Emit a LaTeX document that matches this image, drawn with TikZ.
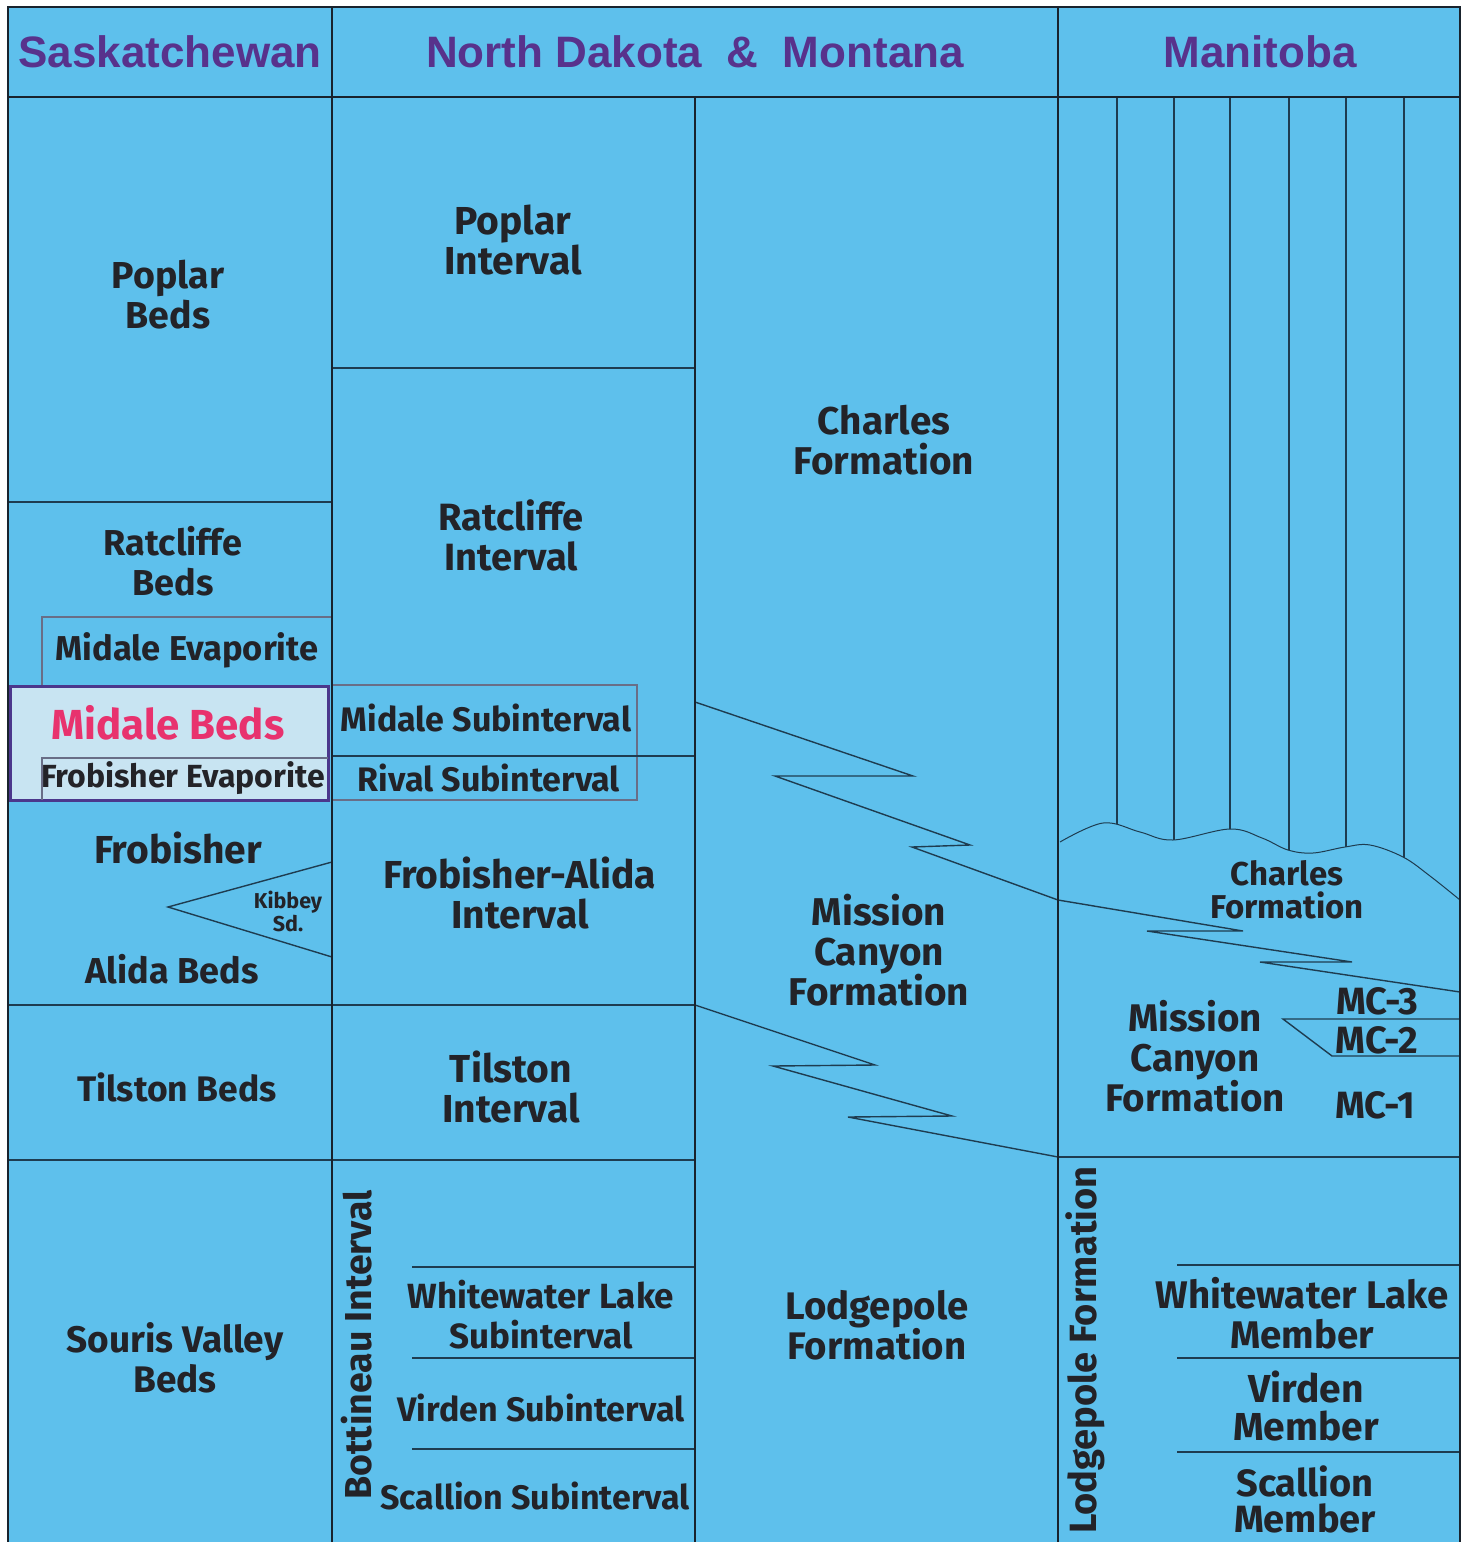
\documentclass[tikz,border=0pt]{standalone}
\usepackage{fontspec}
\setmainfont{Fira Sans}
\newfontfamily\hfont{Liberation Sans}
\definecolor{bg}{RGB}{94,192,236}
\definecolor{hd}{RGB}{88,50,140}
\definecolor{txt}{RGB}{35,35,40}
\definecolor{frame}{RGB}{25,35,45}
\definecolor{thinln}{RGB}{30,60,80}
\definecolor{boxln}{RGB}{105,110,135}
\definecolor{midfill}{RGB}{200,228,242}
\definecolor{midpink}{RGB}{232,50,110}
\definecolor{midframe}{RGB}{75,55,140}
\begin{document}
\begin{tikzpicture}[x=1pt,y=-1pt,
  lbl/.style={font=\bfseries\fontsize{#1}{40}\selectfont, text=txt, align=center, inner sep=0pt},
  lbl/.default=38,
  head/.style={font=\hfont\bfseries\fontsize{44}{46}\selectfont, text=hd, inner sep=0pt},
  frameln/.style={draw=frame, line width=2.6pt},
  thinl/.style={draw=thinln, line width=1.4pt},
  boxl/.style={draw=boxln, line width=1.2pt}]
\useasboundingbox (0,0) rectangle (1466,1542);
\fill[white] (0,0) rectangle (1466,1542);
\fill[bg] (8,7) rectangle (1460,1542);

% highlighted boxes
\draw[boxl] (332,617) -- (42,617) -- (42,686);
\filldraw[fill=midfill, draw=midframe, line width=3pt] (10,686) rectangle (328,800);
\draw[boxl] (42,800) -- (42,758) -- (328,758);
\draw[boxl] (332,685) rectangle (637,800);

% thin horizontal lines
\path[thinl] (8,502) -- (332,502);
\path[thinl] (8,1005) -- (695,1005);
\path[thinl] (8,1160) -- (695,1160);
\path[thinl] (332,368) -- (695,368);
\path[thinl] (332,756) -- (695,756);
\path[thinl] (412,1267) -- (695,1267);
\path[thinl] (412,1358) -- (695,1358);
\path[thinl] (412,1449) -- (695,1449);
\path[thinl] (1058,1157) -- (1460,1157);
\path[thinl] (1177,1265) -- (1460,1265);
\path[thinl] (1177,1358) -- (1460,1358);
\path[thinl] (1177,1452) -- (1460,1452);

% Kibbey wedge
\path[thinl] (332,862) -- (168,907) -- (332,957);

% interfingering boundaries
\path[thinl, line join=miter] (695,702) -- (913,776) -- (775,776) -- (970,845) -- (912,847) -- (1058,900)
  -- (1243,931) -- (1147,931) -- (1352,962) -- (1260,962) -- (1460,992);
\path[thinl, line join=miter] (695,1005) -- (875,1065) -- (773,1066) -- (952,1116) -- (848,1117) -- (1058,1157);
\path[thinl] (1460,1019) -- (1283,1019) -- (1332,1056) -- (1460,1056);

% Manitoba unconformity and truncated strata
\begin{scope}
\clip (1058,97) -- plot[smooth, tension=0.6] coordinates {(1060,842) (1103,823) (1140,832) (1173,840) (1230,829) (1262,838) (1288,850) (1313,853) (1345,847) (1370,845) (1403,857) (1430,876) (1460,900)} -- (1460,97) -- cycle;
\foreach \xx in {1117,1174,1230,1289,1346,1404} \draw[draw=thinln, line width=1.4pt] (\xx,97) -- (\xx,1000);
\end{scope}
\draw[draw=thinln, line width=1pt] plot[smooth, tension=0.6] coordinates {(1060,842) (1103,823) (1140,832) (1173,840) (1230,829) (1262,838) (1288,850) (1313,853) (1345,847) (1370,845) (1403,857) (1430,876) (1460,900)};

% frame lines
\path[frameln] (8,1542) -- (8,7) -- (1460,7) -- (1460,1542);
\path[frameln] (8,97) -- (1460,97);
\path[frameln] (332,7) -- (332,1542);
\path[frameln] (1058,7) -- (1058,1542);
\path[frameln] (695,97) -- (695,1542);

% headers
\node[head] (hsask) at (170,52) {Saskatchewan};
\node[head] (hnd) at (695,52) {North Dakota\ \ \&\ \ Montana};
\node[head] (hman) at (1260,52) {Manitoba};

% Saskatchewan
\node[lbl=37.5] (poplarbeds) at (168,295) {Poplar\\Beds};
\node[lbl=36] (ratbeds) at (173,561) {Ratcliffe\\Beds};
\node[lbl=34.5] (midevap) at (187,650) {Midale Evaporite};
\node[lbl=42, text=midpink] (midbeds) at (168,723) {Midale Beds};
\node[lbl=32] (frobevap) at (183,778) {Frobisher Evaporite};
\node[lbl=39] (frob) at (178,848) {Frobisher};
\node[lbl=21.5, font=\bfseries\fontsize{21.5}{23}\selectfont] (kibbey) at (288,911) {Kibbey\\Sd.};
\node[lbl=36] (alida) at (172,969) {Alida Beds};
\node[lbl=35.5] (tilbeds) at (177,1087) {Tilston Beds};
\node[lbl=37] (souris) at (175,1358) {Souris Valley\\Beds};

% North Dakota & Montana
\node[lbl=39] (popint) at (513,240) {Poplar\\Interval};
\node[lbl=38] (ratint) at (511,535) {Ratcliffe\\Interval};
\node[lbl=34] (midsub) at (486,718) {Midale Subinterval};
\node[lbl=34] (rivsub) at (489,778) {Rival Subinterval};
\node[lbl=39] (frobal) at (520,893) {Frobisher-Alida\\Interval};
\node[lbl=39] (tilint) at (511,1087) {Tilston\\Interval};
\node[lbl=37.5, rotate=90] (bott) at (357,1345) {Bottineau Interval};
\node[lbl=35] (whsub) at (541,1315) {Whitewater Lake\\Subinterval};
\node[lbl=34] (virsub) at (541,1408) {Virden Subinterval};
\node[lbl=34] (scsub) at (535,1496) {Scallion Subinterval};
\node[lbl=38.7] (charles) at (884,440) {Charles\\Formation};
\node[lbl=38.7] (mission) at (879,950) {Mission\\Canyon\\Formation};
\node[lbl=38.4] (lodge) at (877,1325) {Lodgepole\\Formation};

% Manitoba
\node[lbl=33, font=\bfseries\fontsize{33}{33}\selectfont] (charlesm) at (1287,890) {Charles\\Formation};
\node[lbl=38.5] (missionm) at (1195,1056) {Mission\\Canyon\\Formation};
\node[lbl=38] (mc3) at (1377,1001) {MC-3};
\node[lbl=38] (mc2) at (1377,1040) {MC-2};
\node[lbl=38] (mc1) at (1375,1105) {MC-1};
\node[lbl=38, rotate=90] (lodgem) at (1085,1350) {Lodgepole Formation};
\node[lbl=38.5] (whmem) at (1302,1313) {Whitewater Lake\\Member};
\node[lbl=39, font=\bfseries\fontsize{39}{38}\selectfont] (virmem) at (1306,1406) {Virden\\Member};
\node[lbl=38, font=\bfseries\fontsize{38}{36}\selectfont] (scmem) at (1305,1499) {Scallion\\Member};
\end{tikzpicture}
\end{document}
